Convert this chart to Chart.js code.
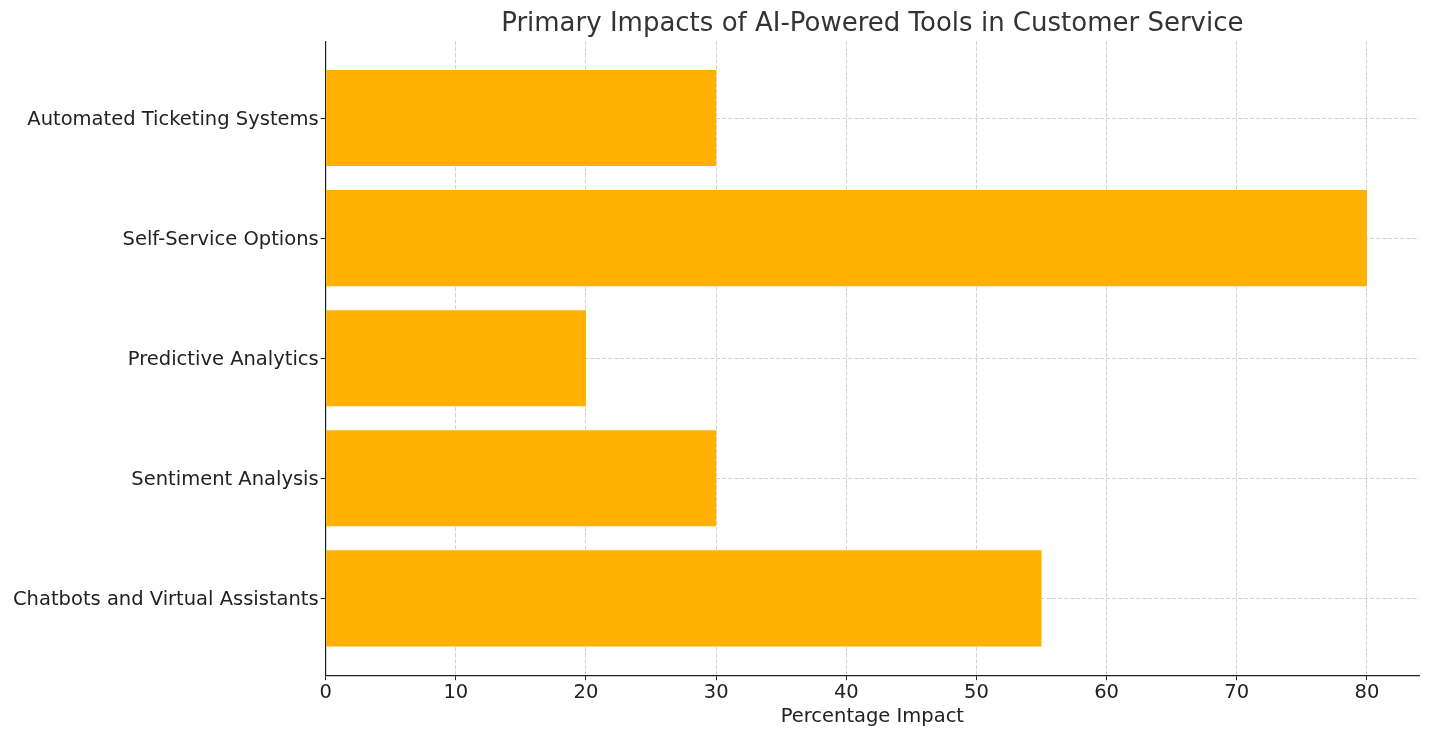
<!DOCTYPE html>
<html>
<head>
<meta charset="utf-8">
<script src="https://cdn.jsdelivr.net/npm/chart.js@4/dist/chart.umd.min.js"></script>
<style>
html,body{margin:0;padding:0;background:#fff;}
#wrap{width:1431px;height:738px;}
</style>
</head>
<body>
<div id="wrap"><canvas id="c" width="1431" height="738"></canvas></div>
<script>
const categories = ['Chatbots and Virtual Assistants','Sentiment Analysis','Predictive Analytics','Self-Service Options','Automated Ticketing Systems'];
const values = [55, 30, 20, 80, 30];
const xTicks = [0, 10, 20, 30, 40, 50, 60, 70, 80];
const chartTitle = 'Primary Impacts of AI-Powered Tools in Customer Service';
const xTitle = 'Percentage Impact';

const FONT = "'DejaVu Sans', sans-serif";
const gridCommon = {
  color: 'rgba(176,176,176,0.75)',
  lineWidth: 0.8,
  tickColor: '#222',
  tickLength: 5,
  tickWidth: 1,
  offset: false
};

new Chart(document.getElementById('c'), {
  type: 'bar',
  data: {
    datasets: [{
      data: categories.map((c, i) => ({ x: values[i], y: i })),
      backgroundColor: '#FFB000',
      borderWidth: 0,
      barPercentage: 0.8,
      categoryPercentage: 1.0
    }]
  },
  options: {
    indexAxis: 'y',
    responsive: false,
    animation: false,
    layout: { padding: { left: 11, right: 12, top: 9, bottom: 9 } },
    plugins: {
      legend: { display: false },
      tooltip: { enabled: false },
      title: {
        display: true,
        text: chartTitle,
        fullSize: false,
        color: '#333',
        font: { family: FONT, size: 26, weight: 'normal' },
        padding: { top: 0, bottom: 1 }
      }
    },
    scales: {
      x: {
        type: 'linear',
        min: 0,
        max: 84,
        z: 1,
        afterBuildTicks: (s) => { s.ticks = xTicks.map(v => ({ value: v })); },
        ticks: { color: '#222', font: { family: FONT, size: 19.5 }, padding: 1 },
        grid: gridCommon,
        border: { display: true, color: '#222', width: 1.2, dash: [4, 2] },
        title: { display: true, text: xTitle, color: '#222', font: { family: FONT, size: 19.5 }, padding: { top: 0, bottom: 0 } }
      },
      y: {
        type: 'linear',
        min: -0.64,
        max: 4.64,
        offset: false,
        z: 1,
        afterBuildTicks: (s) => { s.ticks = categories.map((c, i) => ({ value: i })); },
        ticks: {
          color: '#222',
          font: { family: FONT, size: 19.5 },
          padding: 2,
          labelOffset: 2,
          callback: (v) => categories[v]
        },
        grid: gridCommon,
        border: { display: true, color: '#222', width: 1.2, dash: [4, 2] }
      }
    }
  }
});
</script>
</body>
</html>
